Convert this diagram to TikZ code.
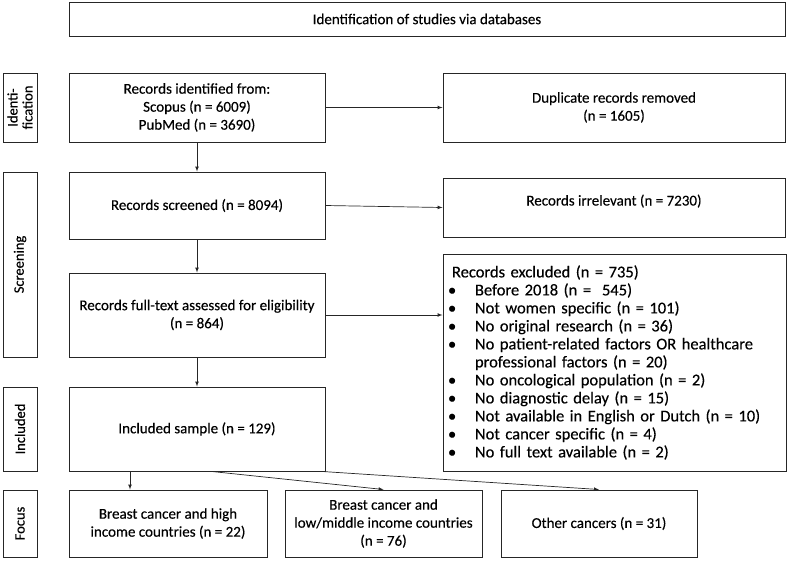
\documentclass[tikz,border=0pt]{standalone}
\usepackage{fontspec}
\setmainfont{Carlito}[FakeBold=0.3]
\usetikzlibrary{shapes, arrows, calc, positioning}

\newcommand{\bul}{\hspace*{-4pt}\makebox[27pt][l]{\textbullet}}

\begin{document}
\begin{tikzpicture}[x=1pt, y=-1pt, font=\fontsize{15}{18}\selectfont,
    box/.style={draw=black!85, line width=1pt, inner sep=2pt, align=center},
    phase/.style={draw=black!85, line width=1pt, inner sep=1pt, align=center, rotate=90,
        font=\fontsize{14.5}{15}\selectfont},
    arr/.style={-latex, line width=0.7pt, draw=black!85}]

    \useasboundingbox (0,0) rectangle (790,560);

    % header
    \node[box, minimum width=716, minimum height=34] (H) at (427,19) {Identification of studies via databases};

    % phases
    \node[phase, minimum width=69, minimum height=34] (P1) at (20,107.5) {Identi-\\fication};
    \node[phase, minimum width=185, minimum height=34] (P2) at (20,264.5) {Screening};
    \node[phase, minimum width=84, minimum height=34] (P3) at (20,429) {Included};
    \node[phase, minimum width=67, minimum height=34] (P4) at (20,523.5) {Focus};

    % main column
    \node[box, minimum width=256, minimum height=69] (R1) at (197,107.5) {Records identified from:\\Scopus (n = 6009)\\PubMed (n = 3690)};
    \node[box, minimum width=256, minimum height=67] (R2) at (197,205.5) {Records screened (n = 8094)};
    \node[box, minimum width=256, minimum height=84] (R3) at (197,315) {Records full-text assessed for eligibility\\(n = 864)};
    \node[box, minimum width=256, minimum height=84] (R4) at (197,429) {Included sample (n = 129)};

    % removed records
    \node[box, minimum width=342, minimum height=69] (D1) at (614,107.5) {Duplicate records removed\\(n = 1605)};
    \node[box, minimum width=342, minimum height=59] (D2) at (614,207.5) {\raisebox{2pt}[0pt][0pt]{Records irrelevant (n = 7230)}};
    \node[box, align=left, inner xsep=9pt, text width=325, minimum width=343, minimum height=217,
        font=\fontsize{16.5}{18}\selectfont] (D3) at (614.5,362.5) {%
        Records excluded (n = 735)\\
        \bul Before 2018 (n = \ 545)\\
        \bul Not women specific (n = 101)\\
        \bul No original research (n = 36)\\
        \bul No patient-related factors OR healthcare\\
        \hspace*{23pt}professional factors (n = 20)\\
        \bul No oncological population (n = 2)\\
        \bul No diagnostic delay (n = 15)\\
        \bul Not available in English or Dutch (n = 10)\\
        \bul Not cancer specific (n = 4)\\
        \bul No full text available (n = 2)};

    % focus
    \node[box, minimum width=198, minimum height=67] (F1) at (168,523.5) {Breast cancer and high\\income countries (n = 22)};
    \node[box, minimum width=197, minimum height=67] (F2) at (383.5,523.5) {Breast cancer and\\low/middle income countries\\(n = 76)};
    \node[box, minimum width=196, minimum height=67] (F3) at (599,523.5) {Other cancers (n = 31)};

    \draw [arr] (R1) -- (R2);
    \draw [arr] (R2) -- (R3);
    \draw [arr] (R3) -- (R4);
    \draw [arr] (R1.east) -- (D1.west);
    \draw [arr] (R2.east) -- (D2.west);
    \draw [arr] (R3.east) -- (R3.east -| D3.west);
    \draw [arr] ([xshift=-67pt]R4.south) -- ([xshift=-38pt]F1.north);
    \draw [arr] ([xshift=15pt]R4.south) -- (F2.north);
    \draw [arr] ([xshift=-3pt]R4.south east) -- (F3.north);
\end{tikzpicture}
\end{document}
